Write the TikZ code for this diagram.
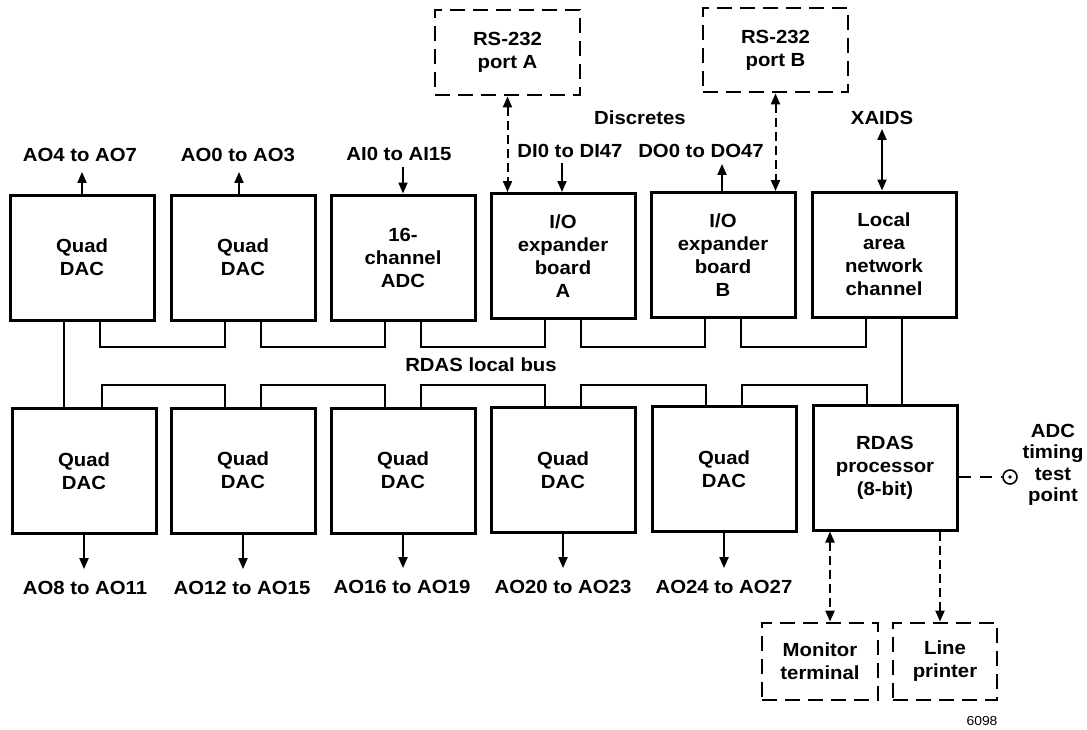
\documentclass[tikz,border=0pt]{standalone}
\usepackage{fontspec}
\setmainfont{Liberation Sans}[FakeStretch=1.07]
\usetikzlibrary{arrows.meta}
\begin{document}
\begin{tikzpicture}[x=1pt,y=-1pt,
  txt/.style={font=\fontsize{19}{23}\selectfont\bfseries},
  box/.style={txt, draw, line width=3pt, minimum width=144pt, minimum height=125pt, inner sep=0pt, align=center},
  dbox/.style={txt, draw, line width=2.8pt, dash pattern=on 15pt off 8pt, inner sep=0pt, align=center},
  lab/.style={txt, inner sep=0pt, align=center},
  conn/.style={line width=2pt},
  tip/.tip={Triangle[length=11pt,width=9pt]},
  arr/.style={conn, -tip},
  darr/.style={conn, dash pattern=on 9pt off 5pt, tip-tip},
]
\useasboundingbox (0,0) rectangle (1087,729);

% top row
\node[box] (t1) at (82,257.5) {Quad\\DAC};
\node[box] (t2) at (243,257.5) {Quad\\DAC};
\node[box] (t3) at (403,257.5) {16-\\channel\\ADC};
\node[box] (t4) at (563,256) {I/O\\expander\\board\\A};
\node[box] (t5) at (723,255) {I/O\\expander\\board\\B};
\node[box] (t6) at (884,254.5) {Local\\area\\network\\channel};

% bottom row
\node[box] (b1) at (84,471) {Quad\\DAC};
\node[box] (b2) at (243,470.5) {Quad\\DAC};
\node[box] (b3) at (403,470.5) {Quad\\DAC};
\node[box] (b4) at (563,470) {Quad\\DAC};
\node[box] (b5) at (724,469) {Quad\\DAC};
\node[box] (b6) at (885,467.5) {RDAS\\processor\\(8-bit)};

% bus
\draw[conn] ([xshift=-18pt]t1.south) -- ([xshift=-18pt]t1.south |- b1.north);
\draw[conn] ([xshift=18pt]t6.south) -- ([xshift=18pt]t6.south |- b6.north);
\coordinate (upbus) at (0,347);
\coordinate (lobus) at (0,385);
\foreach \a/\b in {t1/t2,t2/t3,t3/t4,t4/t5,t5/t6}{
  \draw[conn] ([xshift=18pt]\a.south) -- ([xshift=18pt]\a.south |- upbus) -| ([xshift=-18pt]\b.south);
}
\foreach \a/\b in {b1/b2,b2/b3,b3/b4,b4/b5,b5/b6}{
  \draw[conn] ([xshift=18pt]\a.north) -- ([xshift=18pt]\a.north |- lobus) -| ([xshift=-18pt]\b.north);
}
\node[lab] (bus) at (481,365) {RDAS local bus};

% top labels
\node[lab] (ao47) at (80,155) {AO4 to AO7};
\node[lab] (ao03) at (238,155) {AO0 to AO3};
\node[lab] (ai) at (399,154) {AI0 to AI15};
\node[lab] (di) at (570,151) {DI0 to DI47};
\node[lab] (do) at (701,151) {DO0 to DO47};
\node[lab] (disc) at (640,118) {Discretes};
\node[lab] (xaids) at (882,118) {XAIDS};

\draw[arr, shorten >=10pt] (t1.north) -- (t1.north |- ao47.south);
\draw[arr, shorten >=10pt] ([xshift=-4pt]t2.north) -- ([xshift=-4pt]t2.north |- ao03.south);
\draw[arr, shorten <=6pt] (ai.south -| t3.north) -- (t3.north);
\draw[arr, shorten <=5pt] ([xshift=-1pt]di.south -| t4.north) -- ([xshift=-1pt]t4.north);
\draw[arr, shorten >=6pt] ([xshift=-1pt]t5.north) -- ([xshift=-1pt]t5.north |- do.south);
\draw[conn, tip-tip, shorten <=4pt] ([xshift=-2pt]xaids.south -| t6.north) -- ([xshift=-2pt]t6.north);

% RS-232 ports
\node[dbox, minimum width=145pt, minimum height=85pt] (rsa) at (507.5,52.5) {RS-232\\port A};
\node[dbox, minimum width=145pt, minimum height=84pt] (rsb) at (775.5,50) {RS-232\\port B};
\draw[darr] (rsa.south) -- (rsa.south |- t4.north);
\draw[darr] (rsb.south) -- (rsb.south |- t5.north);

% bottom labels
\node[lab] (ao811) at (85,588) {AO8 to AO11};
\node[lab] (ao1215) at (242,588) {AO12 to AO15};
\node[lab] (ao1619) at (402,587) {AO16 to AO19};
\node[lab] (ao2023) at (563,587) {AO20 to AO23};
\node[lab] (ao2427) at (724,587) {AO24 to AO27};
\draw[arr, shorten >=12pt] (b1.south) -- (b1.south |- ao811.north);
\draw[arr, shorten >=12pt] (b2.south) -- (b2.south |- ao1215.north);
\draw[arr, shorten >=12pt] (b3.south) -- (b3.south |- ao1619.north);
\draw[arr, shorten >=12pt] (b4.south) -- (b4.south |- ao2023.north);
\draw[arr, shorten >=12pt] (b5.south) -- (b5.south |- ao2427.north);

% peripherals
\node[dbox, minimum width=116pt, minimum height=77pt] (mon) at (820,661.5) {Monitor\\terminal};
\node[dbox, minimum width=104pt, minimum height=77pt] (prn) at (945,661.5) {Line\\printer};
\draw[darr] ([xshift=-55pt]b6.south) -- ([xshift=-55pt]b6.south |- mon.north);
\draw[conn, dash pattern=on 9pt off 5pt, -tip] ([xshift=55pt]b6.south) -- ([xshift=55pt]b6.south |- prn.north);

% test point
\node[circle, draw, line width=1.6pt, minimum size=14pt, inner sep=0pt] (tp) at (1010,477) {};
\fill (tp.center) circle (1.8pt);
\draw[conn, dash pattern=on 12pt off 9pt] (b6.east |- tp.west) -- (tp.west);
\node[lab, font=\fontsize{19}{21.5}\selectfont\bfseries] (tpl) at (1053,465) {ADC\\timing\\test\\point};

\node[inner sep=0pt, font=\fontsize{13}{13}\selectfont] (num) at (982,721) {6098};
\end{tikzpicture}
\end{document}
